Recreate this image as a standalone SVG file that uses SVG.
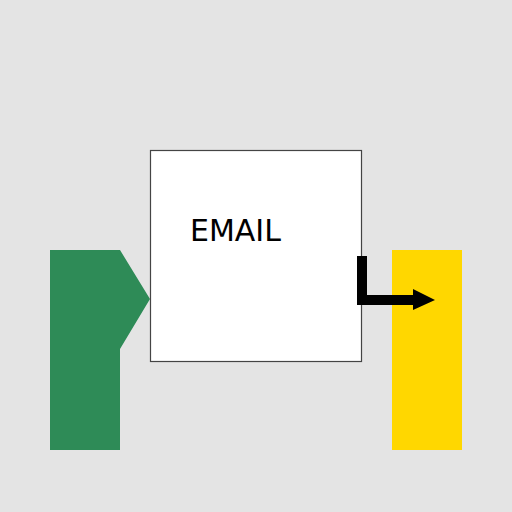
<svg xmlns="http://www.w3.org/2000/svg" width="512" height="512" viewBox="0 0 512 512">
<style>
.lbl{font-family:"DejaVu Sans",sans-serif;font-size:30px;fill:#000}
</style>
<rect x="0" y="0" width="512" height="512" fill="#e4e4e4"/>
<g id="source">
<polygon points="50,250 120,250 150,299 120,349 120,450 50,450" fill="#2e8b57"/>
</g>
<g id="target">
<rect x="392" y="250" width="70" height="200" fill="#ffd700"/>
</g>
<g id="email">
<rect x="150.5" y="150.5" width="211" height="211" fill="#fff" stroke="#444" stroke-width="1.2"/>
<text class="lbl" x="190" y="241">EMAIL</text>
</g>
<g id="connectors">
<polygon points="357,256 367,256 367,295 413,295 413,289 435,300 413,310 413,305 357,305" fill="#000"/>
</g>
</svg>
